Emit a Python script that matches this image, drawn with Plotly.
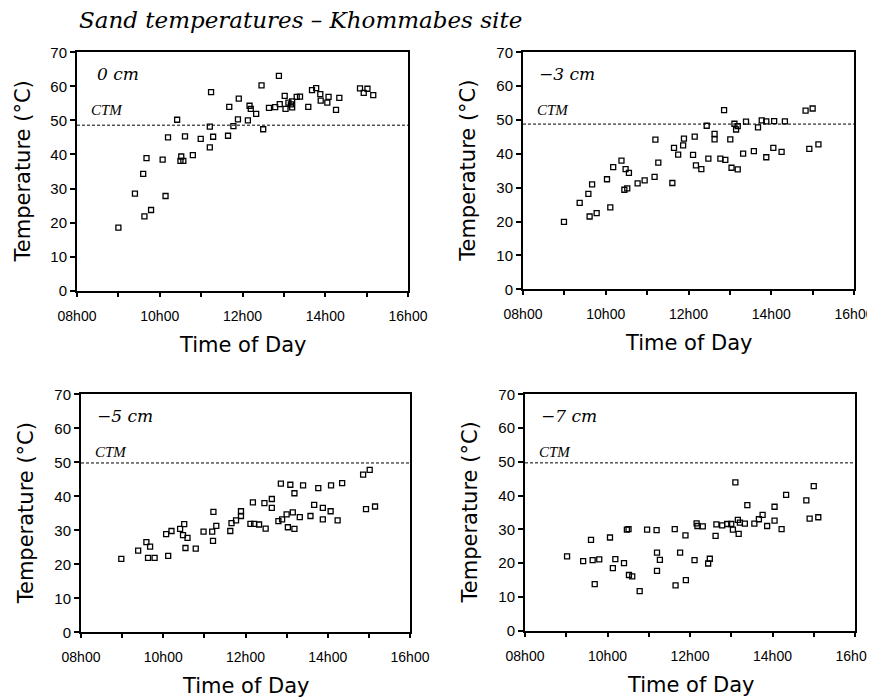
import plotly.graph_objects as go

# ---------------- data (time in decimal hours, temperature in °C) ----------------
time_0cm = [9.00, 9.40, 9.60, 9.68, 9.63, 9.79, 10.07, 10.14, 10.20, 10.42, 10.52, 10.50, 10.57, 10.61,
            10.80, 10.99, 11.21, 11.21, 11.24, 11.29, 11.65, 11.68, 11.78, 11.89, 11.91, 12.13, 12.17,
            12.20, 12.33, 12.46, 12.50, 12.64, 12.79, 12.88, 12.90, 13.02, 13.04, 13.11, 13.17, 13.20,
            13.20, 13.31, 13.39, 13.59, 13.68, 13.78, 13.88, 13.89, 14.05, 14.08, 14.26, 14.34, 14.84,
            14.93, 15.02, 15.16]
temp_0cm = [18.5, 28.5, 34.3, 38.9, 21.8, 23.7, 38.5, 27.8, 45.0, 50.2, 39.4, 38.1, 38.1, 45.3,
            39.8, 44.6, 42.1, 48.2, 58.3, 45.2, 45.5, 54.0, 48.3, 50.3, 56.4, 50.0, 54.3,
            53.4, 51.9, 60.3, 47.4, 53.7, 53.9, 63.1, 54.8, 57.2, 53.4, 55.2, 54.7, 53.8,
            55.6, 56.9, 57.0, 54.0, 58.9, 59.5, 57.7, 55.8, 55.2, 56.9, 53.1, 56.6, 59.4,
            58.1, 59.3, 57.4]

time_3cm = [8.99, 9.37, 9.58, 9.61, 9.67, 9.78, 10.03, 10.11, 10.18, 10.38, 10.45, 10.48, 10.52, 10.56,
            10.77, 10.94, 11.18, 11.20, 11.27, 11.61, 11.65, 11.75, 11.87, 11.89, 12.11, 12.15, 12.18,
            12.31, 12.44, 12.48, 12.63, 12.63, 12.77, 12.86, 12.89, 13.01, 13.04, 13.11, 13.15, 13.19,
            13.19, 13.32, 13.39, 13.58, 13.68, 13.77, 13.88, 13.88, 14.05, 14.07, 14.25, 14.33, 14.83,
            14.92, 15.00, 15.14]
temp_3cm = [19.9, 25.5, 28.2, 21.5, 31.0, 22.5, 32.5, 24.2, 36.1, 38.0, 29.4, 35.5, 29.8, 34.4,
            31.3, 32.2, 33.2, 44.2, 37.4, 31.4, 41.8, 39.8, 42.5, 44.5, 39.7, 45.1, 36.6,
            35.5, 48.3, 38.6, 45.9, 44.3, 38.6, 52.9, 38.2, 44.3, 35.9, 48.9, 47.2, 48.2,
            35.4, 40.1, 49.5, 40.8, 47.8, 49.9, 49.6, 39.0, 41.8, 49.7, 40.6, 49.6, 52.8,
            41.5, 53.4, 42.8]

time_5cm = [8.98, 9.39, 9.59, 9.68, 9.63, 9.79, 10.12, 10.07, 10.20, 10.41, 10.51, 10.48, 10.59, 10.54,
            10.79, 10.98, 11.19, 11.29, 11.22, 11.21, 11.63, 11.66, 11.77, 11.89, 11.89, 12.12, 12.18,
            12.21, 12.33, 12.46, 12.49, 12.64, 12.64, 12.80, 12.86, 12.89, 13.00, 13.03, 13.09, 13.15,
            13.19, 13.19, 13.32, 13.40, 13.58, 13.67, 13.77, 13.88, 13.88, 14.07, 14.08, 14.24, 14.35,
            14.86, 14.93, 15.02, 15.15]
temp_5cm = [21.6, 24.0, 26.5, 25.2, 21.9, 21.9, 22.5, 28.9, 29.8, 30.4, 31.8, 28.6, 27.8, 24.8,
            24.6, 29.6, 29.6, 31.3, 35.4, 26.9, 29.8, 32.1, 32.9, 35.6, 34.2, 31.9, 38.2,
            31.9, 31.7, 38.0, 30.5, 39.2, 36.6, 32.7, 43.7, 33.2, 34.7, 30.9, 43.4, 35.3,
            40.9, 30.4, 33.9, 43.2, 34.2, 37.5, 42.4, 36.6, 33.2, 35.6, 43.2, 32.9, 43.9,
            46.4, 36.2, 47.8, 37.0]

time_7cm = [9.02, 9.41, 9.60, 9.64, 9.69, 9.80, 10.06, 10.13, 10.19, 10.40, 10.47, 10.51, 10.52, 10.60,
            10.78, 10.96, 11.19, 11.20, 11.20, 11.27, 11.63, 11.65, 11.76, 11.89, 11.90, 12.11, 12.16,
            12.18, 12.31, 12.44, 12.48, 12.62, 12.64, 12.78, 12.90, 13.00, 13.04, 13.10, 13.16, 13.18,
            13.21, 13.33, 13.39, 13.56, 13.67, 13.76, 13.87, 14.05, 14.05, 14.22, 14.33, 14.82, 14.90,
            15.00, 15.11]
temp_7cm = [22.0, 20.6, 26.9, 20.9, 13.8, 21.1, 27.6, 18.5, 21.2, 20.0, 29.9, 30.1, 16.5, 16.1,
            11.7, 29.9, 29.8, 23.1, 17.7, 21.0, 30.1, 13.4, 23.1, 28.2, 15.0, 20.9, 31.8,
            31.0, 30.9, 19.9, 21.3, 28.1, 31.5, 31.2, 31.6, 31.6, 29.9, 43.9, 32.8, 28.7,
            32.0, 31.7, 37.2, 31.7, 33.0, 34.3, 31.0, 36.7, 32.6, 30.1, 40.2, 38.6, 33.2,
            42.8, 33.6]

depth_labels = ["0 cm", "\u22123 cm", "\u22125 cm", "\u22127 cm"]
ctm_values = [48.6, 48.8, 49.8, 49.7]
x_tick_vals = [8, 9, 10, 11, 12, 13, 14, 15, 16]
x_tick_text = ["08h00", "", "10h00", "", "12h00", "", "14h00", "", "16h00"]
y_tick_vals = [0, 10, 20, 30, 40, 50, 60, 70]

series = [(time_0cm, temp_0cm), (time_3cm, temp_3cm), (time_5cm, temp_5cm), (time_7cm, temp_7cm)]

# ---------------- layout geometry (screen pixels) ----------------
OFF = 8                      # page body margin
W, H = 875 - OFF, 699 - OFF  # figure size so the page fits the window
# (left, right, top, bottom) in screen pixels
panels = [
    (77, 408, 52.3, 290.7),
    (523, 854, 52.3, 289.3),
    (81, 410, 394.3, 632.3),
    (525, 855, 394.3, 630.7),
]

def px(x):
    return (x - OFF) / W

def py(y):
    return 1 - (y - OFF) / H

fig = go.Figure()
annotations = []
shapes = []

sans = "DejaVu Sans"
xtick_font = dict(family="Liberation Sans", size=14, color="black")
ytick_font = dict(family="Liberation Sans", size=15, color="black")

for i, ((tx, ty), (l, r, t, b)) in enumerate(zip(series, panels)):
    n = "" if i == 0 else str(i + 1)
    xa, ya = "x" + n, "y" + n
    fig.add_trace(go.Scatter(
        x=tx, y=ty, mode="markers", xaxis=xa, yaxis=ya, showlegend=False, cliponaxis=False,
        marker=dict(symbol="square-open", size=5, color="black", line=dict(width=1.3, color="black")),
    ))
    common = dict(showgrid=False, zeroline=False, showline=True, linecolor="black", linewidth=2,
                  mirror=True, ticks="outside", tickcolor="black", tickwidth=1.5,
                  automargin=False, ticklabeloverflow="allow")
    fig.update_layout(**{
        "xaxis" + n: dict(domain=[px(l), px(r)], range=[8, 16], anchor=ya, tickvals=x_tick_vals,
                          ticktext=x_tick_text, ticklen=4, ticklabelstandoff=7, tickfont=xtick_font,
                          **common),
        "yaxis" + n: dict(domain=[py(b), py(t)], range=[0, 70], anchor=xa, tickvals=y_tick_vals,
                          ticklen=5, tickfont=ytick_font, **common),
    })
    # CTM dashed line
    shapes.append(dict(type="line", xref=xa + " domain", x0=0, x1=1, yref=ya,
                       y0=ctm_values[i], y1=ctm_values[i],
                       line=dict(color="black", width=1, dash="3px,2px")))
    # depth label
    annotations.append(dict(text=depth_labels[i], xref="paper", yref="paper",
                            x=px(l + (18 if i == 0 else 14)), y=py(t + 22),
                            xanchor="left", yanchor="middle", showarrow=False,
                            font=dict(family="DejaVu Serif", size=17, style="italic", color="black")))
    # CTM label
    annotations.append(dict(text="CTM", xref="paper", yref="paper",
                            x=px(l + 12), y=py(t + 58),
                            xanchor="left", yanchor="middle", showarrow=False,
                            font=dict(family="Liberation Serif", size=15, style="italic", color="black")))
    # axis titles
    annotations.append(dict(text="Time of Day", xref="paper", yref="paper",
                            x=px((l + r) / 2), y=py(b + 54),
                            xanchor="center", yanchor="middle", showarrow=False,
                            font=dict(family=sans, size=21, color="black")))
    annotations.append(dict(text="Temperature (°C)", xref="paper", yref="paper",
                            x=px(l - 55), y=py((t + b) / 2), textangle=-90,
                            xanchor="center", yanchor="middle", showarrow=False,
                            font=dict(family=sans, size=21, color="black")))

annotations.append(dict(text="Sand temperatures \u2013 Khommabes site", xref="paper", yref="paper",
                        x=px(77), y=py(20), xanchor="left", yanchor="middle", showarrow=False,
                        font=dict(family="DejaVu Serif", size=23, style="italic", color="black")))

fig.update_layout(width=W, height=H, autosize=False, margin=dict(l=0, r=0, t=0, b=0, autoexpand=False),
                  paper_bgcolor="white", plot_bgcolor="white",
                  annotations=annotations, shapes=shapes)

fig.write_html("out.html")
